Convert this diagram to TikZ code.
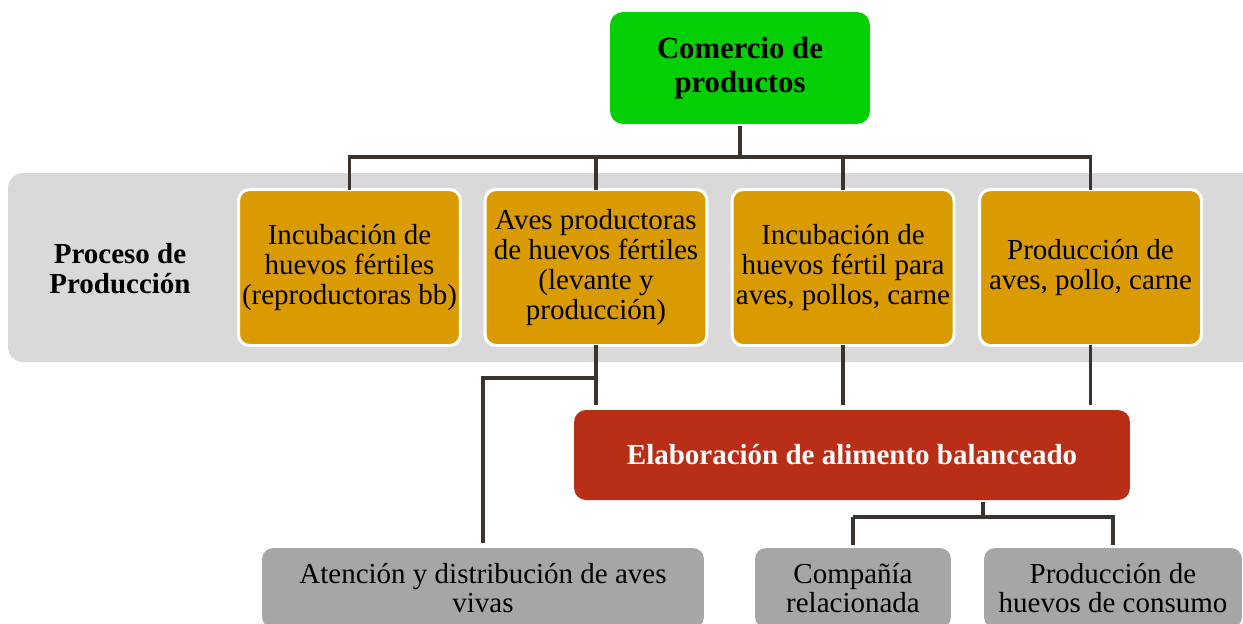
\documentclass[tikz,border=0pt]{standalone}
\usepackage{xcolor}
\usepackage{fontspec}
\setmainfont{Liberation Serif}
\usetikzlibrary{positioning, calc}

\definecolor{verdecom}{RGB}{4,206,4}
\definecolor{ocre}{RGB}{217,155,0}
\definecolor{rojoali}{RGB}{185,46,22}
\definecolor{grisbanda}{RGB}{217,217,217}
\definecolor{griscaja}{RGB}{166,166,166}
\definecolor{lineaosc}{RGB}{59,52,46}

\begin{document}
\begin{tikzpicture}[x=0.02cm, y=-0.02cm,
    texto/.style={font=\fontsize{16.5}{17}\selectfont, align=center, inner sep=0pt, outer sep=0pt},
    proceso/.style={texto, fill=ocre, draw=white, line width=1.7pt, rounded corners=0.22cm,
                    minimum width=4.44cm, minimum height=3.12cm},
    salida/.style={texto, fill=griscaja, rounded corners=0.22cm, minimum height=1.6cm},
    linea/.style={draw=lineaosc, line width=2.2pt}]
    \useasboundingbox (0,0) rectangle (1243,623);
    \clip (0,0) rectangle (1243,623);

    % banda del proceso
    \fill[grisbanda, rounded corners=0.3cm] (8,173) rectangle (1280,362);
    \node[texto, font=\fontsize{16.5}{17}\selectfont\bfseries] (etiq) at (120,269) {Proceso de\\Producción};

    % comercio
    \node[texto, fill=verdecom, rounded corners=0.26cm, minimum width=5.2cm, minimum height=2.24cm,
          font=\fontsize{17.5}{19.4}\selectfont\bfseries] (com) at (740,68) {Comercio de\\productos};

    % etapas de produccion
    \node[proceso] (inc)   at (349.5,267.5) {Incubación de\\huevos fértiles\\(reproductoras bb)};
    \node[proceso] (aves)  at (596,267.5)   {Aves productoras\\de huevos fértiles\\(levante y\\producción)};
    \node[proceso] (incf)  at (843,267.5)   {Incubación de\\huevos fértil para\\aves, pollos, carne};
    \node[proceso] (prodc) at (1090.5,267.5) {Producción de\\aves, pollo, carne};

    % alimento
    \node[texto, fill=rojoali, text=white, rounded corners=0.24cm, minimum width=11.12cm, minimum height=1.8cm,
          font=\fontsize{16.5}{17}\selectfont\bfseries] (ali) at (852,455) {Elaboración de alimento balanceado};

    % salidas
    \node[salida, minimum width=8.84cm] (aten) at (483,588)  {Atención y distribución de aves\\vivas};
    \node[salida, minimum width=3.92cm] (rel)  at (853,588)  {Compañía\\relacionada};
    \node[salida, minimum width=5.16cm] (cons) at (1113,588) {Producción de\\huevos de consumo};

    % conectores
    \coordinate (barra) at (0,157);
    \coordinate (rama) at (0,378);
    \coordinate (barra2) at (0,517);
    \coordinate (medio) at ($(rel.north)!0.5!(cons.north)$);

    \draw[linea, shorten <=1pt] (com.south) -- (com.south |- barra);
    \draw[linea] (inc.north) |- (prodc.north |- barra) -- (prodc.north);
    \foreach \n in {aves, incf}
        \draw[linea] (\n.north) -- (\n.north |- barra);

    \foreach \n in {aves, incf, prodc}
        \draw[linea, shorten >=0.1cm] (\n.south) -- (\n.south |- ali.north);
    \draw[linea, shorten >=0.1cm] (aves.south |- rama) -| (aten.north);

    \draw[linea, shorten <=1pt] (medio |- ali.south) -- (medio |- barra2);
    \draw[linea, shorten >=0.06cm] (rel.north |- barra2) -- (rel.north);
    \draw[linea, shorten >=0.06cm] (rel.north |- barra2) -- (cons.north |- barra2) -- (cons.north);
\end{tikzpicture}
\end{document}
